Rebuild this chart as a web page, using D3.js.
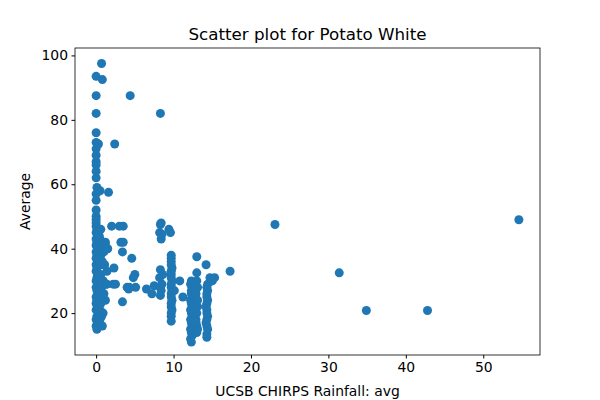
<!DOCTYPE html><html><head><meta charset="utf-8"><script src="https://cdn.jsdelivr.net/npm/d3@7"></script>
<style>body{margin:0;background:#fff}text{font-family:"DejaVu Sans",sans-serif}</style></head><body><svg id="c" width="600" height="400"></svg><script>
const col0Y=[15,16,17,18,19,20,21,22,23,24,25,26,27,28,29,30,31,32,33,34,35,36,37,38,39,40,41,42,43,44,45,46,47,48,49,50,52,55,57,59,62,64,66,67,69,71,73,76,82,87.5,93.5];
const col0X=[0.1,0,0.2,0,0.1,0.3,0,0.2,0,0.1,0,0.2,0.1,0,0.3,0,0.1,0.2,0,0.1,0,0.2,0,0.1,0,0.3,0,0.1,0,0.2,0,0.1,0,0,0,0,0,0,0,0.1,0,0,0,0,0,0,0,0,0,0,0];
const extraX=[0.7,0.9,0.5,0.3,0.6,1.2,0.8,1.0,0.5,0.7,1.3,0.9,0.4,0.6,1.4,0.2,0.5,0.7,1.1,0.8,0.3,0.6,1.0,0.9,1.2,1.5,0.8,0.5,0.4,0.3,0.6,0.9,2.4,1.6,2.0,1.2,3.5,4.4,2.5,3.2,3.4,3.0,4.6,5.0,4.8,3.4,4.2,5.1,6.5,7.5,2.3,8.3,2.2,1.2,7.2,3.5,4.0,4.3,1.4,0.7,0.8,0.3,0.5];
const extraY=[19,20,21,22,23,24,25,26,27,28,29,30,31,32,33,17,18,35,35,36,37,38,39,41,42,40,16,43,44,45,46,30,72.5,57.5,47,41,47,87.5,29,42,39,47,37,32,31,23.5,27.5,28,27.5,28.5,34,82,29,40,26,42,28,28,29,97.5,92.5,72.5,58];
const c8X=[8.3,8.4,8.3,8.5,8.2,8.6,8.3,8.4,8.2,8.5,8.3,8.4,9.4,9.6];
const c8Y=[25.5,27,28,29,31,32,33.5,43,45,44.5,47.5,48,46,45];
const c10Y=[17.5,19,20,21,22,23,24,25,26,27,28,29,30,31,32,33,34,35,36,37,38,30,25,27];
const c10X=[9.7,9.7,9.7,9.8,9.7,9.7,9.8,9.7,9.7,9.8,9.7,9.7,9.8,9.7,9.7,9.7,9.8,9.7,9.7,9.7,9.7,10.8,11.2,10.1];
const c12Y=[11,12,13,14,15,16,17,18,19,20,21,22,23,24,25,26,27,28,29,30,27.5,24];
const c12X=[12.3,12.2,12.4,12.3,12.2,12.4,12.3,12.2,12.4,12.3,12.2,12.4,12.3,12.2,12.4,12.3,12.3,12.4,12.2,12.3,12.9,13.1];
const c13Y=[16,18,20,22,24,26,28,30,32.5,37.5,14,15,17];
const c13X=[13.0,12.9,13.0,13.1,13.0,12.9,13.1,13.0,13.0,13.0,13.0,13.1,12.9];
const c14Y=[12.5,13.5,15,16,17,18,19,20,21,22,23,24,25,26,27,28,29,31,35,30];
const c14X=[14.3,14.3,14.4,14.3,14.2,14.3,14.4,14.3,14.3,14.2,14.3,14.4,14.3,14.3,14.4,14.3,14.4,14.7,14.2,15.0];
const farX=[17.3,23.1,31.4,34.9,42.8,54.6,15.3];
const farY=[33,47.5,32.5,20.8,20.8,49,31];
const xTicks=[0,10,20,30,40,50], yTicks=[20,40,60,80,100];
const X=[].concat(col0X,extraX,c8X,c10X,c12X,c13X,c14X,farX);
const Y=[].concat(col0Y,extraY,c8Y,c10Y,c12Y,c13Y,c14Y,farY);
const svg=d3.select("#c");
const L=75,R=540,T=48,B=355;
const x=d3.scaleLinear().domain([-2.73,57.33]).range([L,R]);
const y=d3.scaleLinear().domain([7.0,102.3]).range([B,T]);
svg.selectAll("circle").data(X).join("circle").attr("cx",d=>x(d)).attr("cy",(d,i)=>y(Y[i])).attr("r",4.5).attr("fill","#1f77b4");
const ax=svg.append("g").attr("transform",`translate(0,${B})`).call(d3.axisBottom(x).tickValues(xTicks).tickSize(3.5).tickPadding(3.5));
const ay=svg.append("g").attr("transform",`translate(${L},0)`).call(d3.axisLeft(y).tickValues(yTicks).tickSize(3.5).tickPadding(3.5));
[ax,ay].forEach(a=>{a.selectAll("text").attr("font-size",13.9).attr("fill","#000");a.select(".domain").remove();});
svg.append("rect").attr("x",L).attr("y",T).attr("width",R-L).attr("height",B-T).attr("fill","none").attr("stroke","#000").attr("stroke-width",0.8);
svg.append("text").attr("x",(L+R)/2).attr("y",40).attr("text-anchor","middle").attr("font-size",16.7).text("Scatter plot for Potato White");
svg.append("text").attr("x",(L+R)/2).attr("y",396).attr("text-anchor","middle").attr("font-size",13.9).text("UCSB CHIRPS Rainfall: avg");
svg.append("text").attr("transform",`translate(30,${(T+B)/2}) rotate(-90)`).attr("text-anchor","middle").attr("font-size",13.9).text("Average");
</script></body></html>
